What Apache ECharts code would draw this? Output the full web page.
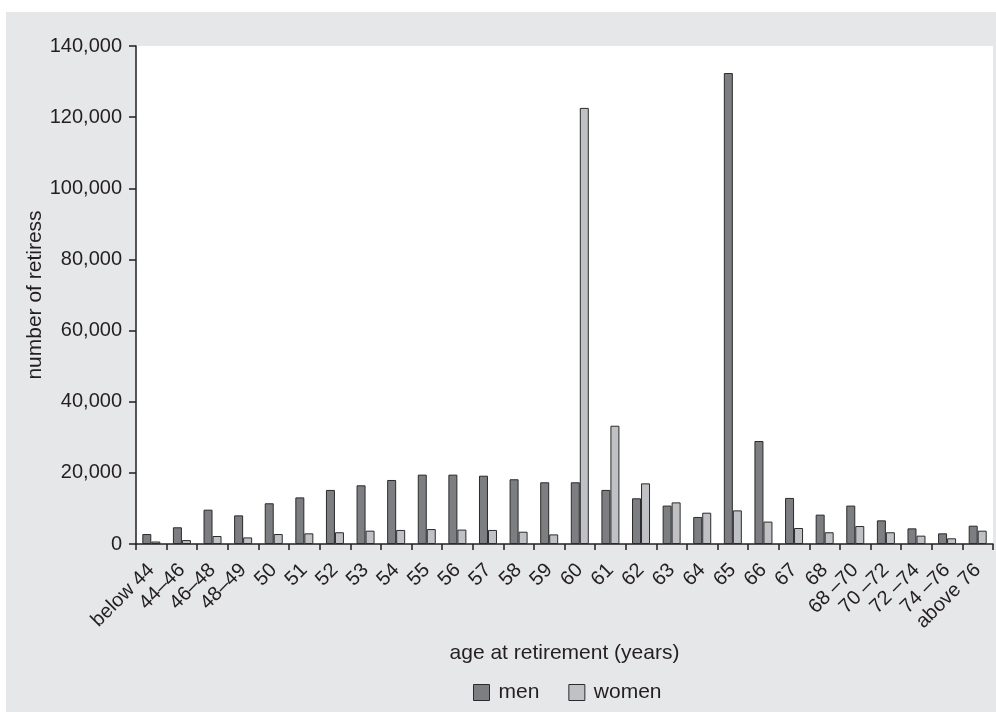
<!DOCTYPE html>
<html><head><meta charset="utf-8">
<script src="https://cdn.jsdelivr.net/npm/echarts@6/dist/echarts.min.js"></script>
<style>
html,body{margin:0;padding:0;background:#fff;width:996px;height:712px;overflow:hidden}
#chart{position:absolute;left:6px;top:12px;width:990px;height:700px;background:#e6e7e9}
</style></head><body>
<div id="chart"></div>
<script>
const categories = ["below 44","44–46","46–48","48–49","50","51","52","53","54","55","56","57","58","59","60","61","62","63","64","65","66","67","68","68 –70","70 –72","72 –74","74 –76","above 76"];
const men   = [2800,4700,9650,8050,11450,13100,15200,16500,18000,19500,19500,19200,18200,17350,17350,15200,12850,10800,7600,132400,28950,12950,8250,10800,6650,4400,3000,5150];
const women = [700,1100,2250,1850,2800,3000,3300,3750,3950,4200,4050,3950,3450,2700,122600,33250,17050,11700,8800,9450,6300,4500,3300,5050,3300,2350,1600,3750];
const yTicks = [0,20000,40000,60000,80000,100000,120000,140000];

const chart = echarts.init(document.getElementById('chart'), null, {renderer:'canvas'});
const font = 'Liberation Sans, Arial, Helvetica, sans-serif';
const textColor = '#231f20';
chart.setOption({
  backgroundColor: 'transparent',
  animation: false,
  grid: {left:130, top:34, right:3, bottom:168, show:true, backgroundColor:'#ffffff', borderWidth:0},
  legend: {
    data:['men','women'], bottom:4, left:462,
    itemWidth:16, itemHeight:16, itemGap:29, icon:'rect',
    textStyle:{fontFamily:font, fontSize:21, color:textColor, padding:[0,0,0,4]},
    itemStyle:{borderColor:'#2b2b2b', borderWidth:1}
  },
  xAxis: {
    type:'category', data:categories,
    name:'age at retirement (years)', nameLocation:'middle', nameGap:99, nameMoveOverlap:false,
    nameTextStyle:{fontFamily:font, fontSize:21, color:textColor},
    axisLine:{lineStyle:{color:'#231f20', width:1.5}},
    axisTick:{show:true, alignWithLabel:false, length:6, lineStyle:{color:'#231f20', width:1.5}},
    axisLabel:{interval:0, rotate:45, fontFamily:font, fontSize:20, color:textColor, margin:23}
  },
  yAxis: {
    type:'value', min:0, max:140000, interval:20000,
    name:'number of retiress', nameLocation:'middle', nameGap:90, nameMoveOverlap:false,
    nameTextStyle:{fontFamily:font, fontSize:21, color:textColor},
    axisLine:{show:true, lineStyle:{color:'#231f20', width:1.5}},
    axisTick:{show:true, length:7, lineStyle:{color:'#231f20', width:1.5}},
    splitLine:{show:false},
    axisLabel:{fontFamily:font, fontSize:20, color:textColor, margin:14,
      formatter:v => yTicks.includes(v) ? v.toLocaleString('en-US') : ''}
  },
  series: [
    {name:'men', type:'bar', data:men, barWidth:9, barGap:'0%',
     itemStyle:{color:'#7d7e82', borderColor:'#2b2b2b', borderWidth:1}},
    {name:'women', type:'bar', data:women, barWidth:9, barGap:'0%',
     itemStyle:{color:'#c0c1c5', borderColor:'#2b2b2b', borderWidth:1}}
  ]
});
</script></body></html>
